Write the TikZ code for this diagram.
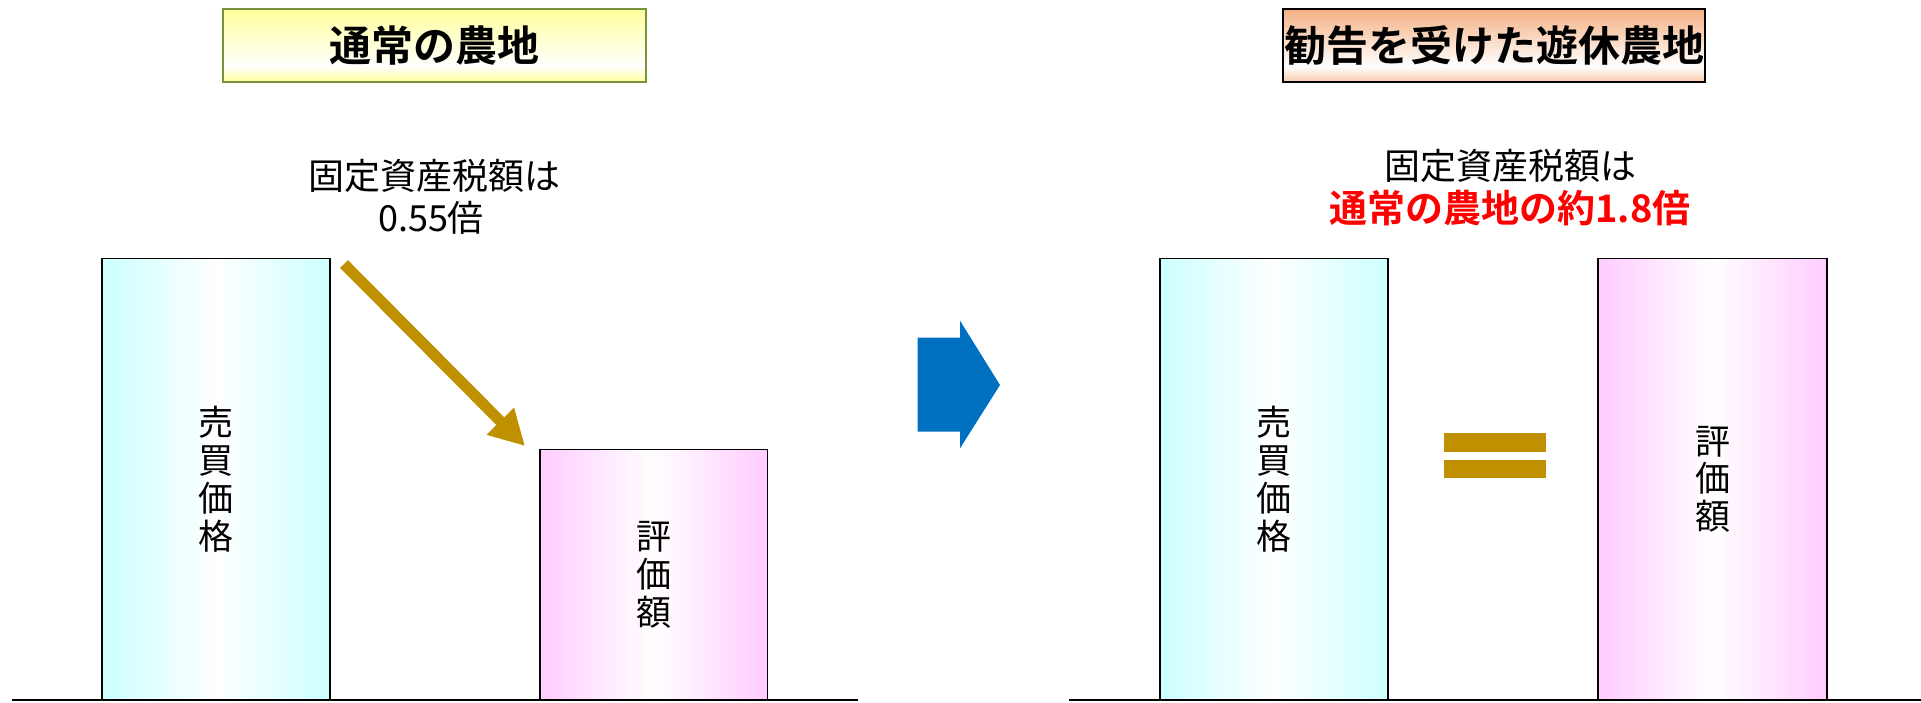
\documentclass[tikz,border=0pt]{standalone}
\usepackage{fontspec}
\newfontfamily\jp{Noto Sans CJK JP}[BoldFont={Noto Sans CJK JP Bold}]
\usetikzlibrary{arrows.meta}
\definecolor{cyanL}{HTML}{CCFFFF}
\definecolor{pinkL}{HTML}{FFCCFF}
\definecolor{goldC}{HTML}{BF9000}
\definecolor{blueC}{HTML}{0070C0}
\definecolor{greenB}{HTML}{77933C}
\definecolor{tyel}{HTML}{FFFF9C}
\definecolor{tsal}{HTML}{F4B183}
\definecolor{tsalB}{HTML}{F8C8A8}
\pgfdeclareverticalshading{ytitle}{100bp}{color(0bp)=(tyel); color(25bp)=(tyel); color(36bp)=(white); color(75bp)=(tyel); color(100bp)=(tyel)}
\pgfdeclareverticalshading{stitle}{100bp}{color(0bp)=(tsalB); color(25bp)=(tsalB); color(36bp)=(white); color(75bp)=(tsal); color(100bp)=(tsal)}
\begin{document}
\begin{tikzpicture}[x=1pt,y=-1pt,
  titlebox/.style={line width=2pt, minimum height=73pt, inner sep=0pt,
    font=\jp\bfseries\fontsize{42}{44}\selectfont},
  bar/.style={draw=black, line width=1.6pt, minimum width=228pt, inner sep=0pt, align=center,
    font=\jp\fontsize{35}{37.7}\selectfont},
  cyanbar/.style={bar, left color=cyanL, right color=cyanL, middle color=white},
  pinkbar/.style={bar, left color=pinkL, right color=pinkL, middle color=white},
  body/.style={font=\jp\fontsize{36}{40}\selectfont, inner sep=0pt},
  ground/.style={line width=2pt, draw=black},
  gold/.style={fill=goldC, draw=none}
]
\useasboundingbox (0,0) rectangle (1921,702);
\fill[white] (0,0) rectangle (1921,702);

% titles
\node[titlebox, draw=greenB, shading=ytitle, minimum width=423pt] (title1) at (434.7,45.2) {通常の農地};
\node[titlebox, draw=black, shading=stitle, minimum width=422pt] (title2) at (1494,45.9) {勧告を受けた遊休農地};

% left texts
\node[body] (tx1) at (434,176) {固定資産税額は};
\node[body] (tx2) at (431,218.3) {0.55倍};

% right texts
\node[body] (tx3) at (1510.5,166) {固定資産税額は};
\node[font=\jp\bfseries\fontsize{38}{40}\selectfont, text=red, inner sep=0pt] (tx4) at (1510,208.5) {通常の農地の約1.8倍};

% bars
\node[cyanbar, minimum height=441.5pt] (bar1) at (216,479.25) {売\\買\\価\\格};
\node[pinkbar, minimum width=227.5pt, minimum height=250.4pt] (bar2) at (653.75,574.8) {評\\価\\額};
\node[cyanbar, minimum height=441.5pt] (bar3) at (1274,479.25) {売\\買\\価\\格};
\node[pinkbar, minimum width=229pt, minimum height=441.5pt] (bar4) at (1712.5,479.25) {評\\価\\額};

% ground lines
\coordinate (g1a) at (12,700);
\coordinate (g1b) at (858,700);
\coordinate (g2a) at (1069,700);
\coordinate (g2b) at (1921,700);
\draw[ground] (g1a) -- (g1b);
\draw[ground] (g2a) -- (g2b);

% gold arrow
\coordinate (as) at (344,264);
\coordinate (ae) at (525,446);
\draw[goldC, line width=11pt, -{Triangle[length=35pt,width=36pt]}] (as) -- (ae);

% blue arrow
\fill[blueC] (917.7,337.7) -- (960,337.7) -- (960,320.7) -- (1000,385) -- (960,448.3) -- (960,431.7) -- (917.7,431.7) -- cycle;

% equal sign
\fill[gold] (1444,433.3) rectangle (1546,451.7);
\fill[gold] (1444,460) rectangle (1546,478.3);
\end{tikzpicture}
\end{document}
